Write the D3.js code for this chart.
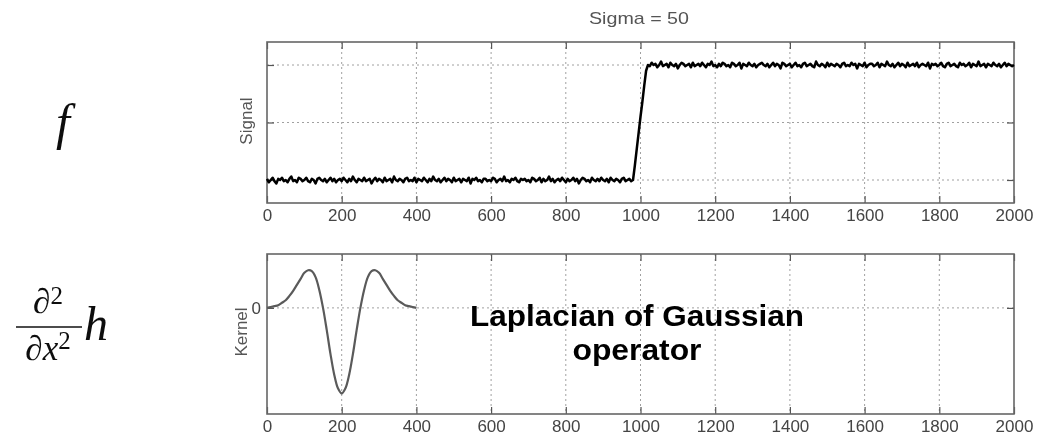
<!DOCTYPE html>
<html>
<head>
<meta charset="utf-8">
<script src="https://cdn.jsdelivr.net/npm/d3@7"></script>
<style>
  body { margin: 0; background: #fff; }
  svg { display: block; }
</style>
</head>
<body>
<script>
// ---- data ----
const xTicks = [0, 200, 400, 600, 800, 1000, 1200, 1400, 1600, 1800, 2000]
const signalYTicks = [0, 0.5, 1]
const kernelYTicks = [0]
const signalStep = 5
// signal in hundredths, x = 0..975
const signalLow = [
  1,-2,0,2,-1,-3,1,0,2,-1,0,-2,1,3,-1,0,-2,2,1,-1,
  0,2,-1,-2,1,0,-3,1,2,0,-1,1,-2,0,2,-1,1,-2,0,1,
  -1,2,0,-2,1,-1,3,0,-2,1,0,-1,2,-1,0,1,-3,0,2,-1,
  1,0,-2,2,-1,0,1,-2,3,0,-1,1,0,-2,1,2,-1,0,-1,2,
  -2,1,0,-1,2,0,-2,1,-1,3,0,-1,1,-2,0,2,-1,1,0,-2,
  2,-1,0,1,-2,1,0,-1,2,-3,1,0,2,-1,0,-2,1,1,-1,0,
  -1,2,1,-2,0,1,-1,3,-1,0,-2,1,0,2,-1,-2,1,0,1,-1,
  0,-2,2,1,-1,0,2,-2,1,-1,0,3,-1,1,-2,0,1,-1,2,0,
  -2,1,-1,0,2,-1,1,-3,0,2,1,-1,0,-2,2,0,-1,1,-1,2,
  0,-1,1,-2,2,0,-1,1,0,-2,1,2,-1,0,1,-1
]
// the rise, x = 980..1020
const signalRamp = [0, 13, 27, 41, 55, 68, 82, 95, 100]
// x = 1025..2000
const signalHigh = [
  99,102,100,101,98,100,103,99,100,101,98,102,100,99,101,97,100,102,101,99,
  100,101,98,102,99,100,101,99,102,100,98,101,100,103,99,100,98,101,99,102,
  101,99,100,98,102,101,99,100,102,97,101,100,99,102,100,99,101,98,100,101,
  102,100,99,101,98,100,102,99,101,100,97,102,101,99,100,101,98,100,102,99,
  100,98,101,102,99,100,101,99,98,103,100,99,101,100,98,102,99,101,100,99,
  101,100,98,101,102,99,100,99,102,100,101,97,101,100,99,102,98,100,101,101,
  99,100,102,98,101,100,99,103,100,99,101,98,100,102,99,101,100,98,102,99,
  100,101,99,102,98,100,101,100,99,102,97,101,100,101,99,100,102,99,98,101,
  102,99,100,101,99,98,102,100,101,99,100,102,98,101,100,99,103,99,100,101,
  98,101,100,99,102,100,99,101,98,100,102,99,101,100,99,100
]
// kernel, x = 0..400 step 10
const kernelStep = 10
const kernelValues = [
  0.00, 0.01, 0.02, 0.03, 0.06, 0.09, 0.14, 0.20, 0.27, 0.34, 0.41,
  0.44, 0.43, 0.36, 0.21, 0.00, -0.26, -0.54, -0.78, -0.94, -1.00,
  -0.94, -0.78, -0.54, -0.26, 0.00, 0.21, 0.36, 0.43, 0.44, 0.41,
  0.34, 0.27, 0.20, 0.14, 0.09, 0.06, 0.03, 0.02, 0.01, 0.00
]

const width = 1037, height = 443
const svg = d3.select("body").append("svg")
  .attr("width", width).attr("height", height)
svg.append("rect").attr("width", width).attr("height", height).attr("fill", "#fff")

svg.append("defs").append("filter").attr("id", "soft")
  .append("feGaussianBlur").attr("stdDeviation", 0.45)

const root = svg.append("g").attr("filter", "url(#soft)")

const left = 267, right = 1014
const x = d3.scaleLinear().domain([0, 2000]).range([left, right])

const signal = signalLow.concat(signalRamp, signalHigh)
  .map((v, i) => ({ x: i * signalStep, y: v / 100 }))
const kernel = kernelValues.map((v, i) => ({ x: i * kernelStep, y: v }))

function panel(top, bottom, yDomain, yTicks, showYLabels) {
  let y = d3.scaleLinear().domain(yDomain).range([bottom, top])
  let g = root.append("g")
  // dotted grid
  g.append("g").selectAll("line")
    .data(xTicks.filter(d => d > 0 && d < 2000))
    .enter().append("line")
    .attr("x1", d => x(d)).attr("x2", d => x(d))
    .attr("y1", top).attr("y2", bottom)
    .attr("stroke", "#a0a0a0").attr("stroke-width", 1)
    .attr("stroke-dasharray", "2,3")
  g.append("g").selectAll("line")
    .data(yTicks)
    .enter().append("line")
    .attr("x1", left).attr("x2", right)
    .attr("y1", d => y(d)).attr("y2", d => y(d))
    .attr("stroke", "#a0a0a0").attr("stroke-width", 1)
    .attr("stroke-dasharray", "2,3")
  // ticks inward, labels only on bottom/left
  g.append("g").attr("transform", `translate(0,${bottom})`)
    .call(d3.axisBottom(x).tickValues(xTicks).tickSize(-7).tickPadding(6).tickFormat(d3.format("d")))
  g.append("g").attr("transform", `translate(0,${top})`)
    .call(d3.axisTop(x).tickValues(xTicks).tickSize(-7).tickFormat(""))
  g.append("g").attr("transform", `translate(${left},0)`)
    .call(d3.axisLeft(y).tickValues(yTicks).tickSize(-7).tickPadding(6)
      .tickFormat(showYLabels ? d3.format("d") : ""))
  g.append("g").attr("transform", `translate(${right},0)`)
    .call(d3.axisRight(y).tickValues(yTicks).tickSize(-7).tickFormat(""))
  g.selectAll(".domain").remove()
  g.selectAll(".tick line").attr("stroke", "#555").attr("stroke-width", 1.2)
  g.selectAll(".tick text")
    .attr("font-family", "Liberation Sans, Arial, sans-serif")
    .attr("font-size", 17).attr("fill", "#444")
  g.append("rect")
    .attr("x", left).attr("y", top)
    .attr("width", right - left).attr("height", bottom - top)
    .attr("fill", "none").attr("stroke", "#666").attr("stroke-width", 1.6)
  return { g, y }
}

// top: the signal
let p1 = panel(42, 203, [-0.2, 1.2], signalYTicks, false)
p1.g.append("path")
  .datum(signal)
  .attr("d", d3.line().x(d => x(d.x)).y(d => p1.y(d.y)))
  .attr("fill", "none").attr("stroke", "#000")
  .attr("stroke-width", 2.5).attr("stroke-linejoin", "round")

// bottom: the kernel
let p2 = panel(254, 414, [-1.24, 0.63], kernelYTicks, true)
p2.g.append("path")
  .datum(kernel)
  .attr("d", d3.line().curve(d3.curveCatmullRom).x(d => x(d.x)).y(d => p2.y(d.y)))
  .attr("fill", "none").attr("stroke", "#5a5a5a")
  .attr("stroke-width", 2.2)

// titles and axis names
root.append("text")
  .attr("x", 639).attr("y", 24)
  .attr("text-anchor", "middle")
  .attr("font-family", "Liberation Sans, Arial, sans-serif")
  .attr("font-size", 17).attr("fill", "#555")
  .attr("textLength", 100).attr("lengthAdjust", "spacingAndGlyphs")
  .text("Sigma = 50")

root.append("text")
  .attr("transform", "translate(252,121) rotate(-90)")
  .attr("text-anchor", "middle")
  .attr("font-family", "Liberation Sans, Arial, sans-serif")
  .attr("font-size", 17).attr("fill", "#555")
  .text("Signal")

root.append("text")
  .attr("transform", "translate(247,332) rotate(-90)")
  .attr("text-anchor", "middle")
  .attr("font-family", "Liberation Sans, Arial, sans-serif")
  .attr("font-size", 17).attr("fill", "#555")
  .text("Kernel")

// annotation
const boldFont = "Liberation Sans, Arial, sans-serif"
root.append("text")
  .attr("x", 637).attr("y", 326)
  .attr("text-anchor", "middle")
  .attr("font-family", boldFont)
  .attr("font-weight", "bold").attr("font-size", 29).attr("fill", "#000")
  .attr("textLength", 334).attr("lengthAdjust", "spacingAndGlyphs")
  .text("Laplacian of Gaussian")
root.append("text")
  .attr("x", 637).attr("y", 360)
  .attr("text-anchor", "middle")
  .attr("font-family", boldFont)
  .attr("font-weight", "bold").attr("font-size", 29).attr("fill", "#000")
  .attr("textLength", 129).attr("lengthAdjust", "spacingAndGlyphs")
  .text("operator")

// formulas on the left
const serif = "Liberation Serif, Times New Roman, serif"
root.append("text")
  .attr("x", 63).attr("y", 139)
  .attr("text-anchor", "middle")
  .attr("font-family", serif).attr("font-style", "italic")
  .attr("font-size", 50).attr("fill", "#111")
  .text("f")

let num = root.append("text")
  .attr("x", 48).attr("y", 313)
  .attr("text-anchor", "middle")
  .attr("font-family", serif).attr("font-size", 35).attr("fill", "#111")
num.append("tspan").text("∂")
num.append("tspan").attr("font-size", 25).attr("dy", -9).text("2")

root.append("line")
  .attr("x1", 16).attr("x2", 82).attr("y1", 327).attr("y2", 327)
  .attr("stroke", "#111").attr("stroke-width", 1.6)

let den = root.append("text")
  .attr("x", 48).attr("y", 360)
  .attr("text-anchor", "middle")
  .attr("font-family", serif).attr("font-size", 35).attr("fill", "#111")
den.append("tspan").text("∂")
den.append("tspan").attr("font-style", "italic").text("x")
den.append("tspan").attr("font-size", 25).attr("dy", -11).text("2")

root.append("text")
  .attr("x", 84).attr("y", 340)
  .attr("font-family", serif).attr("font-style", "italic")
  .attr("font-size", 48).attr("fill", "#111")
  .text("h")
</script>
</body>
</html>
